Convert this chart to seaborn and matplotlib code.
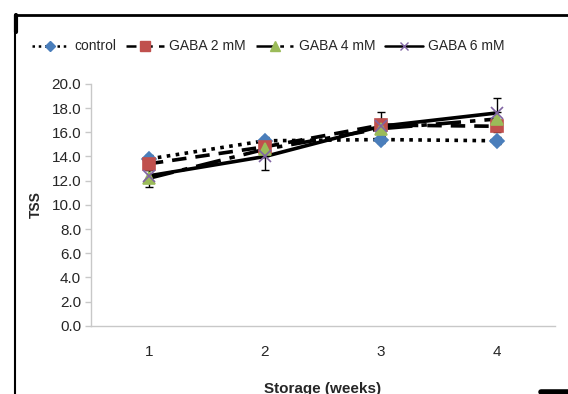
import matplotlib
matplotlib.use("Agg")
import matplotlib.pyplot as plt
import seaborn as sns
import pandas as pd
from matplotlib.lines import Line2D

# данные
weeks = [1, 2, 3, 4]
control = [13.8, 15.3, 15.4, 15.3]
gaba2 = [13.4, 14.8, 16.6, 16.5]
gaba4 = [12.2, 14.6, 16.3, 17.1]
gaba6 = [12.4, 14.0, 16.5, 17.6]
err_control = [0.3, 0.3, 0.3, 0.3]
err_gaba2 = [0.4, 0.4, 0.5, 0.5]
err_gaba4 = [0.7, 0.6, 0.6, 0.6]
err_gaba6 = [0.5, 1.1, 1.2, 1.2]
labels = ['control', 'GABA 2 mM', 'GABA 4 mM', 'GABA 6 mM']

sns.set_style('white')
plt.rcParams['font.family'] = ['Liberation Sans', 'DejaVu Sans']

series = [
    (control, err_control, (0, (1, 1.5)), 'D', '#4A7EBB', 7),
    (gaba2, err_gaba2, (0, (4, 2.5)), 's', '#C0504D', 9),
    (gaba4, err_gaba4, (0, (7, 2.5, 1.5, 2.5)), '^', '#9BBB59', 9),
    (gaba6, err_gaba6, '-', 'x', '#8064A2', 8),
]

fig = plt.figure(figsize=(5.68, 3.94), dpi=100)
ax = fig.add_axes([0.160, 0.173, 0.817, 0.614])

handles = []
for (vals, err, ls, mk, col, ms), lab in zip(series, labels):
    df = pd.DataFrame({'week': weeks, 'TSS': vals})
    ax.errorbar(weeks, vals, yerr=err, fmt='none', ecolor='black',
                elinewidth=1, capsize=3, zorder=2)
    sns.lineplot(data=df, x='week', y='TSS', ax=ax, color='black',
                 linestyle=ls, linewidth=2.6, zorder=3)
    ax.plot(weeks, vals, linestyle='none', marker=mk, markersize=ms,
            color=col, markeredgecolor=col, mew=1.2, zorder=4)
    handles.append(Line2D([0], [0], color='black', linestyle=ls, linewidth=1.8,
                          marker=mk, markersize=ms - 2, markerfacecolor=col,
                          markeredgecolor=col))

ax.set_xlim(0.5, 4.5)
ax.set_ylim(0, 20)
ax.set_yticks([i * 2.0 for i in range(11)])
ax.set_yticklabels([f'{i * 2.0:.1f}' for i in range(11)], fontsize=11)
ax.set_xticks(weeks)
ax.set_xticklabels([str(w) for w in weeks], fontsize=11)
ax.set_xticks([1.5, 2.5, 3.5], minor=True)
ax.tick_params(axis='x', which='major', length=0, pad=14)
ax.tick_params(axis='x', which='minor', length=4, color='#C8C8C8', width=1)
ax.tick_params(axis='y', length=4, color='#C8C8C8', width=1, pad=3, left=True)
for s in ['top', 'right']:
    ax.spines[s].set_visible(False)
for s in ['left', 'bottom']:
    ax.spines[s].set_color('#C8C8C8')
    ax.spines[s].set_linewidth(1)
ax.set_xlabel('Storage (weeks)', fontsize=11, fontweight='bold', labelpad=16)
ax.set_ylabel('TSS', fontsize=10, fontweight='bold', labelpad=6)
ax.grid(False)

fig.legend(handles, labels, loc='center', bbox_to_anchor=(0.472, 0.882),
           ncol=4, frameon=False, fontsize=10, handlelength=2.7,
           columnspacing=0.7, handletextpad=0.4)

# рамка вокруг рисунка
fig.add_artist(Line2D([0.026, 1.0], [0.962, 0.962], color='black', linewidth=2))
fig.add_artist(Line2D([0.026, 0.026], [0.962, 0.0], color='black', linewidth=1.5))
fig.add_artist(Line2D([0.028, 0.028], [0.962, 0.92], color='black', linewidth=3))
fig.add_artist(Line2D([0.952, 1.0], [0.006, 0.006], color='black', linewidth=4))

fig.savefig('out.png', dpi=100)
